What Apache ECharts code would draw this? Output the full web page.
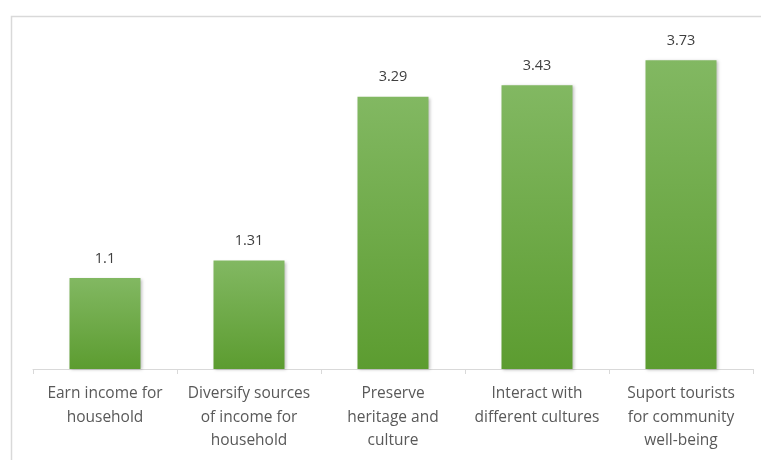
<!DOCTYPE html>
<html><head><meta charset="utf-8">
<script src="https://cdn.jsdelivr.net/npm/echarts@6/dist/echarts.min.js"></script>
<style>html,body{margin:0;padding:0;background:#fff}#c{width:761px;height:460px}</style>
</head><body><div id="c"></div>
<script>
const categories = [
  "Earn income for\nhousehold",
  "Diversify sources\nof income for\nhousehold",
  "Preserve\nheritage and\nculture",
  "Interact with\ndifferent cultures",
  "Suport tourists\nfor community\nwell-being"
];
const values = [1.1, 1.31, 3.29, 3.43, 3.73];

const chart = echarts.init(document.getElementById('c'), null, {renderer: 'canvas'});
chart.setOption({
  animation: false,
  graphic: [{
    type: 'rect', left: 9, top: 14, z: -1,
    shape: {x: 0, y: 0, width: 800, height: 500},
    style: {fill: 'none', stroke: '#d9d9d9', lineWidth: 1.5}
  }],
  grid: {left: 33, right: 8, top: 38, bottom: 91, containLabel: false},
  xAxis: {
    type: 'category', data: categories,
    axisLine: {lineStyle: {color: '#d9d9d9', width: 1}},
    axisTick: {show: true, length: 5, lineStyle: {color: '#d9d9d9'}},
    axisLabel: {color: '#595959', fontSize: 15.5, fontFamily: 'Open Sans', lineHeight: 23.5, margin: 13, interval: 0}
  },
  yAxis: {type: 'value', min: 0, max: 4, show: false, splitLine: {show: false}},
  series: [{
    type: 'bar', data: values, barWidth: 71,
    itemStyle: {
      color: new echarts.graphic.LinearGradient(0, 0, 0, 1, [
        {offset: 0, color: '#82b862'}, {offset: 1, color: '#5c9c30'}
      ]),
      shadowColor: 'rgba(0,0,0,0.25)', shadowBlur: 3, shadowOffsetX: 1.5, shadowOffsetY: 1
    },
    label: {show: true, position: 'top', distance: 12, color: '#404040', fontSize: 14.5, fontFamily: 'Open Sans'}
  }]
});
</script></body></html>
